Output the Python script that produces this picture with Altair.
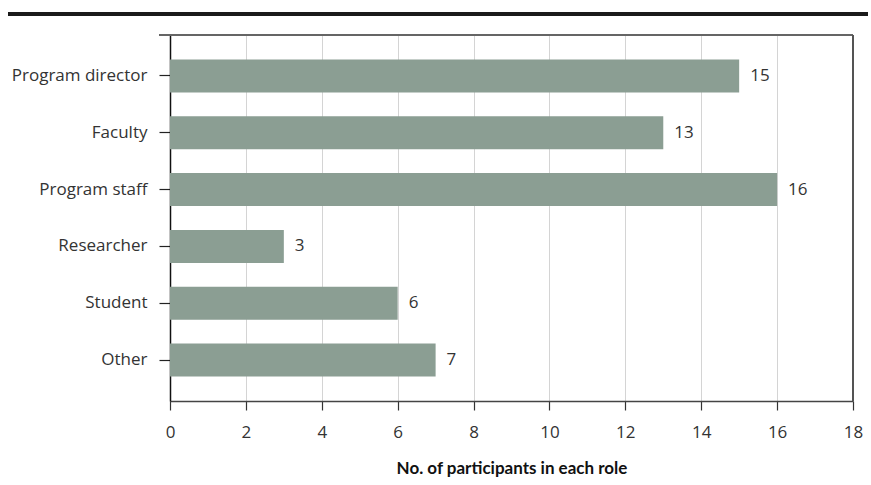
import altair as alt
import pandas as pd

roles = ["Program director", "Faculty", "Program staff", "Researcher", "Student", "Other"]
counts = [15, 13, 16, 3, 6, 7]
x_ticks = [0, 2, 4, 6, 8, 10, 12, 14, 16, 18]

df = pd.DataFrame({"role": roles, "count": counts})

W, H = 683, 366
FONT = "Open Sans"

y_enc = alt.Y("role:N", sort=roles, title=None,
              scale=alt.Scale(paddingInner=0.42, paddingOuter=0.43),
              axis=alt.Axis(domainColor="#111", domainWidth=1.5, tickColor="#222",
                            tickSize=11, tickWidth=1.2, labelPadding=12,
                            labelFont=FONT, labelFontSize=17, labelColor="#333"))
x_enc = alt.X("count:Q", title="No. of participants in each role",
              scale=alt.Scale(domain=[0, 18], nice=False),
              axis=alt.Axis(values=x_ticks, grid=True, gridColor="#d4d4d4",
                            domainColor="#444", domainWidth=1.5, tickColor="#333",
                            tickSize=9, tickWidth=1.2, labelPadding=14, labelFlush=False,
                            labelFont=FONT, labelFontSize=17, labelColor="#333",
                            titleFont="Lato", titleFontSize=17, titleFontWeight="bold",
                            titleColor="#111", titlePadding=20))

bars = alt.Chart(df).mark_bar(color="#8b9e93").encode(x=x_enc, y=y_enc)
labels = alt.Chart(df).mark_text(align="left", dx=11, font=FONT, fontSize=17,
                                 color="#333").encode(
    x="count:Q", y=alt.Y("role:N", sort=roles), text="count:Q")

top_rule = alt.Chart(df).mark_rule(color="#666", strokeWidth=1.5).encode(
    x=alt.value(-11), x2=alt.value(W), y=alt.value(0))
right_rule = alt.Chart(df).mark_rule(color="#555", strokeWidth=1.5).encode(
    x=alt.value(W), y=alt.value(0), y2=alt.value(H))
header_rule = alt.Chart(df).mark_rule(color="#1a1a1a", strokeWidth=4).encode(
    x=alt.value(-162), x2=alt.value(698), y=alt.value(-21))

chart = alt.layer(bars, labels, top_rule, right_rule, header_rule).properties(
    width=W, height=H,
    autosize=alt.AutoSizeParams(type="none"),
    padding={"left": 170, "top": 35, "right": 18, "bottom": 84},
).configure_view(stroke=None).configure(background="white")

chart.save("out.html", embed_options={"renderer": "svg", "actions": False})
